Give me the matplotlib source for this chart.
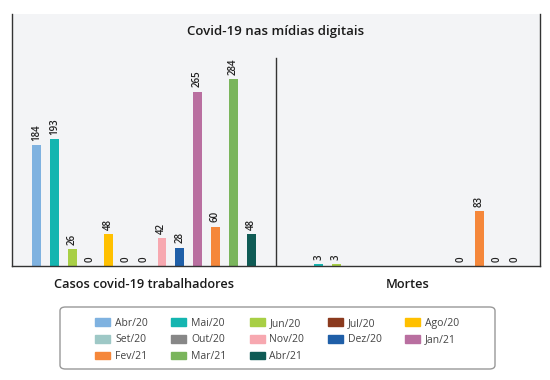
import matplotlib.pyplot as plt
from matplotlib.patches import Patch, FancyBboxPatch
import numpy as np

plt.rcParams['font.family'] = ['Open Sans', 'DejaVu Sans']

meses = ['Abr/20', 'Mai/20', 'Jun/20', 'Jul/20', 'Ago/20', 'Set/20', 'Out/20',
         'Nov/20', 'Dez/20', 'Jan/21', 'Fev/21', 'Mar/21', 'Abr/21']
cores = ['#7fb2e0', '#14b5b0', '#a8cf45', '#8b3a1e', '#ffc000', '#9ec8c6', '#878787',
         '#f7a8b0', '#1f5fa8', '#b96fa0', '#f5873a', '#7ab55c', '#0f5b55']
grupos = ['Casos covid-19 trabalhadores', 'Mortes']
casos = [184, 193, 26, 0, 48, 0, 0, 42, 28, 265, 60, 284, 48]
mortes = [None, 3, 3, None, None, None, None, None, None, 0, 83, 0, 0]

fig = plt.figure(figsize=(5.5, 3.8), dpi=100)
ax = fig.add_axes([12 / 550, 1 - 266 / 380, 528 / 550, 252 / 380])
ax.set_facecolor('#f3f4f6')

passo = 0.0677
larg = 0.033
for g, serie in enumerate([casos, mortes]):
    for i, v in enumerate(serie):
        if v is None:
            continue
        x = g + (i - 6) * passo
        ax.bar(x, v, width=larg, color=cores[i])
        ax.annotate(str(v), (x, v), xytext=(0, 3), textcoords='offset points',
                    rotation=90, ha='center', va='bottom', fontsize=7,
                    fontweight='semibold', color='#222222')

ax.set_xlim(-0.5, 1.5)
ax.set_ylim(0, 383)
ax.axvline(0.5, ymin=0, ymax=0.825, color='#333333', lw=1)
ax.set_xticks([])
ax.set_yticks([])
for s in ['left', 'right', 'bottom']:
    ax.spines[s].set_color('#333333')
    ax.spines[s].set_linewidth(1)
ax.spines['top'].set_visible(False)

ax.text(0.5, 1 - 17 / 252, 'Covid-19 nas mídias digitais', transform=ax.transAxes,
        ha='center', va='center', fontsize=9.5, fontweight='semibold', color='#1a1a1a')
for g, nome in enumerate(grupos):
    ax.text(g, -18 / 252 * 383, nome, ha='center', va='center', fontsize=9.2,
            fontweight='semibold', color='#1a1a1a')

# legenda preenchida por linhas
ordem = [0, 5, 10, 1, 6, 11, 2, 7, 12, 3, 8, 4, 9]
handles = [Patch(color=cores[i], label=meses[i]) for i in ordem]
fig.legend(handles=handles, ncol=5, loc='center', bbox_to_anchor=(277 / 550, 1 - 340 / 380),
           frameon=False, fontsize=7.5, handlelength=1.45, handleheight=0.7, handletextpad=0.45,
           columnspacing=2.25, labelspacing=0.55, labelcolor='#444444')
fig.patches.append(FancyBboxPatch((60 / 550, 1 - 369 / 380), 435 / 550, 62 / 380,
                                  boxstyle='round,pad=0,rounding_size=0.01',
                                  transform=fig.transFigure, facecolor='none',
                                  edgecolor='#999999', lw=1))

fig.savefig('out.png', dpi=100)
